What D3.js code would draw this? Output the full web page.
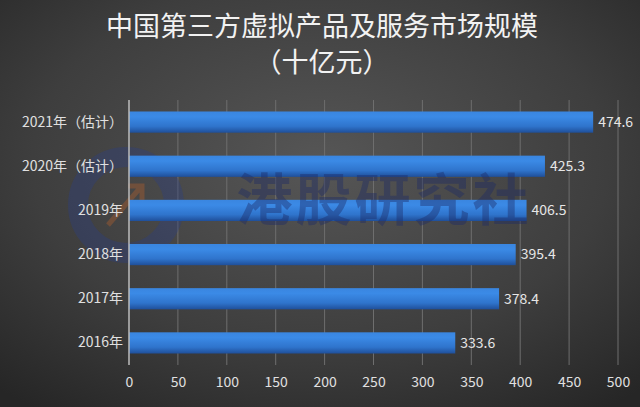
<!DOCTYPE html>
<html>
<head>
<meta charset="utf-8">
<script src="https://cdn.jsdelivr.net/npm/d3@7"></script>
<style>
  body { margin: 0; background: #333; }
  svg { display: block; }
</style>
</head>
<body>
<script>
const categories = ['2016年', '2017年', '2018年', '2019年', '2020年（估计）', '2021年（估计）'];
const values = [333.6, 378.4, 395.4, 406.5, 425.3, 474.6];
const xTicks = [0, 50, 100, 150, 200, 250, 300, 350, 400, 450, 500];
const titleLines = ['中国第三方虚拟产品及服务市场规模', '（十亿元）'];

const width = 640, height = 407;
const margin = { top: 100, right: 22, bottom: 42, left: 129 };
const font = '"Noto Sans CJK SC", "Open Sans", sans-serif';

const svg = d3.select('body')
  .append('svg')
  .attr('width', width)
  .attr('height', height);

const defs = svg.append('defs');

const bg = defs.append('radialGradient')
  .attr('id', 'bg')
  .attr('cx', '50%').attr('cy', '40%').attr('r', '75%');
bg.append('stop').attr('offset', '0%').attr('stop-color', '#565656');
bg.append('stop').attr('offset', '60%').attr('stop-color', '#3e3e3e');
bg.append('stop').attr('offset', '100%').attr('stop-color', '#262626');

const barGrad = defs.append('linearGradient')
  .attr('id', 'bar')
  .attr('x1', 0).attr('y1', 0).attr('x2', 0).attr('y2', 1);
barGrad.append('stop').attr('offset', '0%').attr('stop-color', '#3a86e0');
barGrad.append('stop').attr('offset', '25%').attr('stop-color', '#3b8ae6');
barGrad.append('stop').attr('offset', '70%').attr('stop-color', '#2f74cc');
barGrad.append('stop').attr('offset', '100%').attr('stop-color', '#1f4f9a');

svg.append('rect')
  .attr('width', width)
  .attr('height', height)
  .attr('fill', 'url(#bg)');

// title
svg.append('g')
  .selectAll('text')
  .data(titleLines)
  .enter()
  .append('text')
  .attr('x', width / 2 + 2)
  .attr('y', (_, i) => 36 + i * 36)
  .attr('text-anchor', 'middle')
  .attr('fill', '#f2f2f2')
  .style('font-family', font)
  .style('font-size', '27px')
  .text(d => d);

const xScale = d3.scaleLinear()
  .domain([0, 500])
  .range([margin.left, width - margin.right]);

const yScale = d3.scaleBand()
  .domain(categories.slice().reverse())
  .range([margin.top, height - margin.bottom])
  .paddingInner(0.52)
  .paddingOuter(0.26);

// grid lines
svg.append('g')
  .selectAll('line')
  .data(xTicks.slice(1))
  .enter()
  .append('line')
  .attr('x1', d => xScale(d))
  .attr('x2', d => xScale(d))
  .attr('y1', margin.top)
  .attr('y2', height - margin.bottom)
  .attr('stroke', '#6e6e6e')
  .attr('stroke-width', 1);

// watermark logo
const wm = svg.append('g').attr('opacity', 0.35);
wm.append('circle')
  .attr('cx', 126).attr('cy', 205).attr('r', 48)
  .attr('fill', 'none')
  .attr('stroke', '#2b3f86')
  .attr('stroke-width', 20);
wm.append('path')
  .attr('d', 'M108,225 L140,188 M128,186 L142,186 L142,200')
  .attr('fill', 'none')
  .attr('stroke', '#c0632a')
  .attr('stroke-width', 5);

// bars
svg.append('g')
  .selectAll('rect')
  .data(values)
  .enter()
  .append('rect')
  .attr('x', xScale(0))
  .attr('y', (_, i) => yScale(categories[i]))
  .attr('width', d => xScale(d) - xScale(0))
  .attr('height', yScale.bandwidth())
  .attr('fill', 'url(#bar)');

svg.append('text')
  .attr('x', 384)
  .attr('y', 220)
  .attr('text-anchor', 'middle')
  .attr('fill', '#1c2a66')
  .attr('opacity', 0.4)
  .style('font-family', font)
  .style('font-size', '56px')
  .style('font-weight', 'bold')
  .style('letter-spacing', '3px')
  .text('港股研究社');

// axis line at zero
svg.append('line')
  .attr('x1', xScale(0))
  .attr('x2', xScale(0))
  .attr('y1', margin.top)
  .attr('y2', height - margin.bottom)
  .attr('stroke', '#bdbdbd')
  .attr('stroke-width', 1.5);

// value labels
svg.append('g')
  .selectAll('text')
  .data(values)
  .enter()
  .append('text')
  .attr('x', d => xScale(d) + 5)
  .attr('y', (_, i) => yScale(categories[i]) + yScale.bandwidth() / 2)
  .attr('dy', '0.35em')
  .attr('fill', '#e6e6e6')
  .style('font-family', font)
  .style('font-size', '14px')
  .text(d => d.toFixed(1));

// category labels
const yAxis = d3.axisLeft(yScale).tickSize(0).tickPadding(6);
svg.append('g')
  .attr('transform', `translate(${xScale(0)}, 0)`)
  .call(yAxis)
  .call(g => g.select('.domain').remove())
  .selectAll('text')
  .attr('fill', '#e0e0e0')
  .style('font-family', font)
  .style('font-size', '14px');

// x axis
const xAxis = d3.axisBottom(xScale).tickValues(xTicks).tickSize(0).tickPadding(12);
svg.append('g')
  .attr('transform', `translate(0, ${height - margin.bottom})`)
  .call(xAxis)
  .call(g => g.select('.domain').remove())
  .selectAll('text')
  .attr('fill', '#e0e0e0')
  .style('font-family', font)
  .style('font-size', '14px');
</script>
</body>
</html>
